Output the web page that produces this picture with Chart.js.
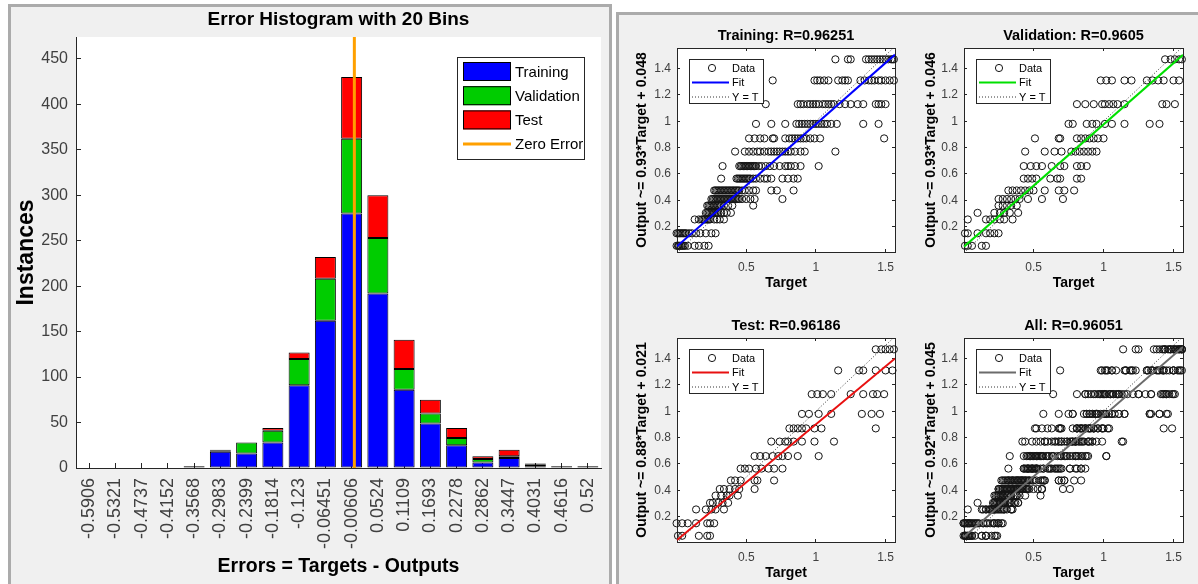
<!DOCTYPE html>
<html>
<head>
<meta charset="utf-8">
<script src="https://cdn.jsdelivr.net/npm/chart.js@4.4.1/dist/chart.umd.min.js"></script>
<style>
  html, body { margin: 0; padding: 0; background: #ffffff; }
  #page { position: relative; width: 1198px; height: 584px; overflow: hidden; }
  .panel { position: absolute; box-sizing: border-box; background: #f0f0f0; border: 3px solid #ababab; }
  #histPanel { left: 8px; top: 4px; width: 604px; height: 620px; }
  #regPanel { left: 616px; top: 12px; width: 620px; height: 620px; }
  canvas { position: absolute; }
</style>
</head>
<body>
<div id="page">
  <div class="panel" id="histPanel"></div>
  <div class="panel" id="regPanel"></div>
  <canvas id="hist" width="612" height="584" style="left:0;top:0"></canvas>
  <canvas id="regTrain" width="285" height="284" style="left:620px;top:16px"></canvas>
  <canvas id="regVal" width="293" height="284" style="left:905px;top:16px"></canvas>
  <canvas id="regTest" width="285" height="284" style="left:620px;top:306px"></canvas>
  <canvas id="regAll" width="293" height="284" style="left:905px;top:306px"></canvas>
</div>
<script>
const FONT = "'Liberation Sans', Arial, Helvetica, sans-serif";
Chart.defaults.font.family = FONT;

// ---- Error histogram ----
const binCenters = ['-0.5906', '-0.5321', '-0.4737', '-0.4152', '-0.3568', '-0.2983', '-0.2399', '-0.1814',
  '-0.123', '-0.06451', '-0.00606', '0.0524', '0.1109', '0.1693', '0.2278', '0.2862', '0.3447', '0.4031',
  '0.4616', '0.52'];
const trainingCounts   = [0, 0, 0, 0, 2, 18, 16, 28, 91, 162, 280, 192, 86, 49, 25, 6, 11, 2, 2, 2];
const validationCounts = [0, 0, 0, 0, 0, 1, 12, 13, 29, 46, 82, 61, 23, 11, 8, 4, 2, 2, 0, 0];
const testCounts       = [0, 0, 0, 0, 0, 1, 0, 3, 7, 24, 68, 47, 32, 15, 11, 3, 7, 1, 0, 0];
const countTicks = [0, 50, 100, 150, 200, 250, 300, 350, 400, 450];
const countMax = 474;
const zeroError = 0;

// ---- Regression plots ----
const outputLevels = [1.47, 1.31, 1.13, 0.98, 0.87, 0.77, 0.66, 0.565, 0.475, 0.41, 0.36, 0.305, 0.255, 0.15, 0.055];

const trainingTargets = [
  [1.14, 1.23, 1.25, 1.36, 1.38, 1.40, 1.42, 1.44, 1.46, 1.48, 1.50, 1.52, 1.54, 1.55, 1.56],
  [0.69, 0.99, 1.01, 1.03, 1.06, 1.09, 1.16, 1.19, 1.21, 1.23, 1.32, 1.35, 1.38, 1.40, 1.42, 1.45, 1.47, 1.50, 1.53, 1.56],
  [0.64, 0.87, 0.89, 0.91, 0.94, 0.96, 0.98, 1.00, 1.02, 1.05, 1.07, 1.09, 1.11, 1.13, 1.17, 1.21, 1.25, 1.30, 1.34, 1.43, 1.45, 1.47, 1.50],
  [0.57, 0.68, 0.78, 0.86, 0.88, 0.90, 0.92, 0.94, 0.96, 0.98, 1.00, 1.02, 1.04, 1.06, 1.08, 1.11, 1.15, 1.34, 1.45],
  [0.52, 0.56, 0.60, 0.63, 0.69, 0.70, 0.78, 0.81, 0.83, 0.85, 0.87, 0.89, 0.91, 0.93, 0.96, 0.99, 1.03, 1.49],
  [0.42, 0.49, 0.52, 0.55, 0.58, 0.60, 0.63, 0.66, 0.68, 0.70, 0.72, 0.74, 0.76, 0.78, 0.80, 0.82, 0.85, 0.89, 0.92, 1.14],
  [0.33, 0.45, 0.46, 0.47, 0.48, 0.49, 0.50, 0.51, 0.52, 0.53, 0.54, 0.55, 0.56, 0.57, 0.59, 0.61, 0.64, 0.67, 0.70, 0.74, 0.78, 0.80, 0.82, 0.85, 0.89, 1.02],
  [0.32, 0.43, 0.44, 0.45, 0.46, 0.47, 0.48, 0.49, 0.50, 0.51, 0.52, 0.53, 0.55, 0.57, 0.60, 0.63, 0.65, 0.68, 0.76, 0.80, 0.84, 0.87],
  [0.27, 0.28, 0.29, 0.30, 0.31, 0.32, 0.33, 0.34, 0.35, 0.36, 0.37, 0.38, 0.39, 0.40, 0.41, 0.42, 0.43, 0.44, 0.45, 0.47, 0.49, 0.52, 0.55, 0.57, 0.68, 0.72, 0.84],
  [0.25, 0.26, 0.27, 0.28, 0.29, 0.30, 0.31, 0.32, 0.33, 0.34, 0.35, 0.36, 0.37, 0.38, 0.39, 0.40, 0.41, 0.42, 0.43, 0.44, 0.45, 0.47, 0.50, 0.53, 0.56, 0.76],
  [0.22, 0.23, 0.24, 0.25, 0.26, 0.27, 0.28, 0.29, 0.30, 0.31, 0.32, 0.34, 0.37, 0.40, 0.55],
  [0.21, 0.22, 0.23, 0.24, 0.25, 0.26, 0.27, 0.28, 0.29, 0.30, 0.32, 0.34, 0.36, 0.39],
  [0.13, 0.16, 0.18, 0.19, 0.20, 0.21, 0.22, 0.23, 0.24, 0.27, 0.29, 0.31, 0.34],
  [0.00, 0.01, 0.02, 0.03, 0.04, 0.05, 0.06, 0.07, 0.09, 0.11, 0.14, 0.17, 0.21, 0.25, 0.28],
  [0.00, 0.01, 0.015, 0.02, 0.03, 0.04, 0.05, 0.06, 0.08, 0.13, 0.16, 0.20, 0.23]
];
const validationTargets = [
  [1.44, 1.48, 1.51, 1.54, 1.56],
  [0.98, 1.02, 1.06, 1.15, 1.20, 1.31, 1.35, 1.39, 1.43, 1.50, 1.54],
  [0.81, 0.87, 0.93, 0.99, 1.01, 1.04, 1.07, 1.10, 1.15, 1.42, 1.45, 1.51],
  [0.75, 0.78, 0.88, 0.92, 0.95, 1.01, 1.06, 1.15, 1.33, 1.40],
  [0.51, 0.68, 0.69, 0.81, 0.84, 0.87, 0.90, 0.93, 0.96, 1.00],
  [0.44, 0.58, 0.65, 0.70, 0.77, 0.80, 0.83, 0.86, 0.89, 0.92, 0.95],
  [0.43, 0.48, 0.52, 0.56, 0.63, 0.69, 0.72, 0.81, 0.84, 0.88],
  [0.43, 0.46, 0.49, 0.52, 0.62, 0.67, 0.69, 0.81, 0.84],
  [0.32, 0.35, 0.38, 0.41, 0.44, 0.47, 0.50, 0.58, 0.68, 0.72, 0.79],
  [0.25, 0.28, 0.31, 0.34, 0.37, 0.40, 0.46, 0.56, 0.71],
  [0.25, 0.28, 0.31, 0.34, 0.38],
  [0.10, 0.22, 0.26, 0.29, 0.33, 0.39],
  [0.03, 0.16, 0.19, 0.22, 0.26, 0.29, 0.35],
  [0.01, 0.03, 0.10, 0.16, 0.19, 0.22, 0.25],
  [0.01, 0.03, 0.06, 0.13, 0.16]
];
const testTargets = [
  [1.43, 1.47, 1.50, 1.53, 1.56],
  [1.16, 1.31, 1.34, 1.43, 1.50, 1.55],
  [0.97, 1.01, 1.05, 1.11, 1.25, 1.34, 1.41, 1.44, 1.49],
  [0.90, 0.95, 1.02, 1.11, 1.33, 1.40, 1.46],
  [0.81, 0.84, 0.87, 0.90, 0.93, 0.99, 1.04, 1.43],
  [0.68, 0.74, 0.78, 0.80, 0.84, 0.90, 0.99, 1.13],
  [0.56, 0.60, 0.64, 0.69, 0.73, 0.76, 0.80, 0.87, 1.02],
  [0.46, 0.49, 0.52, 0.57, 0.61, 0.66, 0.70, 0.76],
  [0.39, 0.42, 0.46, 0.56, 0.58, 0.70],
  [0.31, 0.34, 0.38, 0.42, 0.45, 0.56],
  [0.28, 0.32, 0.36, 0.38, 0.44],
  [0.24, 0.26, 0.30, 0.33, 0.37],
  [0.14, 0.21, 0.25, 0.28, 0.34],
  [0.00, 0.04, 0.08, 0.14, 0.22, 0.24, 0.27],
  [0.01, 0.04, 0.16, 0.22, 0.24]
];
// slope, intercept of each fitted line
const fitTraining   = [0.93, 0.048];
const fitValidation = [0.93, 0.046];
const fitTest       = [0.88, 0.021];
const fitAll        = [0.92, 0.045];
const rTraining = '0.96251', rValidation = '0.9605', rTest = '0.96186', rAll = '0.96051';
const targetTicks = [0.5, 1, 1.5];
const outputTicks = [0.2, 0.4, 0.6, 0.8, 1, 1.2, 1.4];
const targetRange = [0.003, 1.568];
const outputRange = [0.008, 1.556];

// ---------- shared helpers ----------
const AXIS = '#262626';
const TICKTXT = '#404040';

const plotBackground = {
  id: 'plotBackground',
  beforeDraw(chart) {
    const { ctx, chartArea: a } = chart;
    ctx.save();
    ctx.fillStyle = '#ffffff';
    ctx.fillRect(a.left, a.top, a.width, a.height);
    ctx.restore();
  }
};

const fixedTicks = (values) => (scale) => { scale.ticks = values.map(v => ({ value: v })); };
// fixed axis band size, without extra room reserved for overhanging end labels
const bandSize = (prop, size) => (scale) => {
  scale[prop] = size;
  scale.paddingLeft = 0; scale.paddingRight = 0;
  scale.paddingTop = 0; scale.paddingBottom = 0;
};

// ---------- histogram ----------
const binValues = binCenters.map(Number);
const halfBin = (binValues[binValues.length - 1] - binValues[0]) / (binValues.length - 1) / 2;

const histLegend = {
  id: 'histLegend',
  afterDraw(chart) {
    const { ctx, chartArea: a } = chart;
    const x0 = a.right - 144, y0 = a.top + 20, w = 128, h = 103;
    ctx.save();
    ctx.fillStyle = '#ffffff';
    ctx.fillRect(x0, y0, w, h);
    ctx.strokeStyle = AXIS;
    ctx.lineWidth = 1;
    ctx.strokeRect(x0 + 0.5, y0 + 0.5, w - 1, h - 1);
    ctx.font = '15px ' + FONT;
    ctx.textBaseline = 'middle';
    ctx.textAlign = 'left';
    chart.data.datasets.forEach((ds, i) => {
      const cy = y0 + 14.5 + i * 24.2;
      if (ds.type === 'line') {
        ctx.strokeStyle = ds.borderColor;
        ctx.lineWidth = 3;
        ctx.beginPath();
        ctx.moveTo(x0 + 6, cy);
        ctx.lineTo(x0 + 54, cy);
        ctx.stroke();
      } else {
        ctx.fillStyle = ds.backgroundColor;
        ctx.fillRect(x0 + 6, cy - 9.5, 48, 19);
        ctx.strokeStyle = '#000';
        ctx.lineWidth = 1;
        ctx.strokeRect(x0 + 6.5, cy - 9, 47, 18);
      }
      ctx.fillStyle = '#000';
      ctx.fillText(ds.label, x0 + 58, cy + 1);
    });
    ctx.restore();
  }
};

// one stacked bar per bin, filling 80% of the bin
const barStyle = {
  borderColor: '#000000', borderWidth: 1, borderSkipped: false,
  grouped: false, barPercentage: 0.8, categoryPercentage: 1.0
};

new Chart(document.getElementById('hist'), {
  type: 'bar',
  data: {
    labels: binCenters,
    datasets: [
      Object.assign({ label: 'Training', data: trainingCounts, backgroundColor: '#0000ff' }, barStyle),
      Object.assign({ label: 'Validation', data: validationCounts, backgroundColor: '#00cc00' }, barStyle),
      Object.assign({ label: 'Test', data: testCounts, backgroundColor: '#ff0000' }, barStyle),
      {
        type: 'line', label: 'Zero Error', xAxisID: 'xz', yAxisID: 'y', order: -1,
        data: [{ x: zeroError, y: 0 }, { x: zeroError, y: countMax }],
        borderColor: '#ffa000', borderWidth: 3, pointRadius: 0, fill: false
      }
    ]
  },
  options: {
    responsive: false, animation: false, events: [],
    layout: { padding: { left: 0, right: 11, top: 0, bottom: 0 } },
    plugins: {
      legend: { display: false }, tooltip: { enabled: false },
      title: {
        display: true, text: 'Error Histogram with 20 Bins', fullSize: false, color: '#000',
        font: { size: 19, weight: 'bold' }, padding: { top: 8.6, bottom: 5.6 }
      }
    },
    scales: {
      x: {
        type: 'category', stacked: true, offset: true,
        afterFit: bandSize('height', 116),
        grid: { offset: false, drawOnChartArea: false, drawTicks: true, tickLength: -5, color: AXIS },
        border: { display: true, color: AXIS, width: 1 },
        ticks: { autoSkip: false, minRotation: 90, maxRotation: 90, padding: 15, color: TICKTXT, font: { size: 18 } },
        title: { display: true, text: 'Errors = Targets - Outputs', color: '#000', font: { size: 19.5, weight: 'bold' }, padding: { top: 0, bottom: 6 } }
      },
      xz: {
        type: 'linear', display: false, offset: false,
        min: binValues[0] - halfBin, max: binValues[binValues.length - 1] + halfBin
      },
      y: {
        type: 'linear', stacked: true, min: 0, max: countMax,
        afterBuildTicks: fixedTicks(countTicks),
        afterFit: bandSize('width', 76),
        grid: { drawOnChartArea: false, drawTicks: true, tickLength: -5, color: AXIS },
        border: { display: true, color: AXIS, width: 1 },
        ticks: { padding: 13, color: TICKTXT, font: { size: 16 }, callback: (v) => String(v) },
        title: { display: true, text: 'Instances', color: '#000', font: { size: 23, weight: 'bold' }, padding: { top: 13.2, bottom: 0 } }
      }
    }
  },
  plugins: [plotBackground, histLegend]
});

// ---------- regression plots ----------
const regLegend = {
  id: 'regLegend',
  afterDraw(chart) {
    const { ctx, chartArea: a } = chart;
    const x0 = a.left + 12, y0 = a.top + 11, w = 75, h = 45;
    ctx.save();
    ctx.fillStyle = '#ffffff';
    ctx.fillRect(x0, y0, w, h);
    ctx.strokeStyle = AXIS;
    ctx.lineWidth = 1;
    ctx.strokeRect(x0 + 0.5, y0 + 0.5, w - 1, h - 1);
    ctx.font = '11px ' + FONT;
    ctx.textBaseline = 'middle';
    ctx.textAlign = 'left';
    chart.data.datasets.forEach((ds, i) => {
      const cy = y0 + 9 + i * 14.5;
      if (ds.showLine === false) {
        ctx.strokeStyle = ds.borderColor;
        ctx.lineWidth = 1;
        ctx.beginPath();
        ctx.arc(x0 + 23, cy, ds.pointRadius, 0, Math.PI * 2);
        ctx.stroke();
      } else {
        ctx.strokeStyle = ds.borderColor;
        ctx.lineWidth = ds.borderWidth;
        ctx.setLineDash(ds.borderDash || []);
        ctx.beginPath();
        ctx.moveTo(x0 + 3, cy);
        ctx.lineTo(x0 + 40, cy);
        ctx.stroke();
        ctx.setLineDash([]);
      }
      ctx.fillStyle = '#000';
      ctx.fillText(ds.label, x0 + 43, cy + 0.5);
    });
    ctx.restore();
  }
};

function rowsToPoints(rows) {
  const pts = [];
  rows.forEach((row, i) => row.forEach(t => pts.push({ x: t, y: outputLevels[i] })));
  return pts;
}

function regressionPlot(canvasId, name, r, rows, fit, color, axisWidth, padRight, yTitlePad) {
  const lo = targetRange[0], hi = targetRange[1];
  const edgeScale = (extra) => Object.assign({
    type: 'linear',
    grid: { drawOnChartArea: false, drawTicks: true, tickLength: -3, color: AXIS },
    border: { display: true, color: AXIS, width: 1 }
  }, extra);
  return new Chart(document.getElementById(canvasId), {
    type: 'scatter',
    data: {
      datasets: [
        {
          label: 'Data', data: rowsToPoints(rows), xAxisID: 'x', yAxisID: 'y', order: 2,
          showLine: false, pointStyle: 'circle', pointRadius: 3.6, borderWidth: 1,
          borderColor: '#141414', backgroundColor: 'rgba(0,0,0,0)', clip: false
        },
        {
          type: 'line', label: 'Fit', xAxisID: 'x', yAxisID: 'y', order: 0,
          data: [{ x: lo, y: fit[0] * lo + fit[1] }, { x: hi, y: fit[0] * hi + fit[1] }],
          borderColor: color, borderWidth: 2, pointRadius: 0, fill: false
        },
        {
          type: 'line', label: 'Y = T', xAxisID: 'x', yAxisID: 'y', order: 1,
          data: [{ x: lo, y: lo }, { x: hi, y: hi }],
          borderColor: '#333333', borderWidth: 1, borderDash: [1, 2], pointRadius: 0, fill: false
        }
      ]
    },
    options: {
      responsive: false, animation: false, events: [],
      layout: { padding: { left: 0, right: padRight, top: 0, bottom: 0 } },
      plugins: {
        legend: { display: false }, tooltip: { enabled: false },
        title: {
          display: true, text: name + ': R=' + r, fullSize: false, color: '#000',
          font: { size: 14.5, weight: 'bold' }, padding: { top: 11.3, bottom: 3.3 }
        }
      },
      scales: {
        x: edgeScale({
          position: 'bottom', min: targetRange[0], max: targetRange[1],
          afterBuildTicks: fixedTicks(targetTicks),
          afterFit: bandSize('height', 48),
          ticks: { padding: 11, color: TICKTXT, font: { size: 12 }, maxRotation: 0, callback: (v) => String(v) },
          title: { display: true, text: 'Target', color: '#000', font: { size: 14, weight: 'bold' }, padding: { top: 0, bottom: 8.6 } }
        }),
        y: edgeScale({
          position: 'left', min: outputRange[0], max: outputRange[1],
          afterBuildTicks: fixedTicks(outputTicks),
          afterFit: bandSize('width', axisWidth),
          ticks: { padding: 9, color: TICKTXT, font: { size: 12 }, callback: (v) => String(v) },
          title: {
            display: true, text: 'Output ~= ' + fit[0] + '*Target + ' + fit[1], color: '#000',
            font: { size: 14, weight: 'bold' }, padding: { top: yTitlePad, bottom: 0 }
          }
        }),
        x2: edgeScale({
          position: 'top', min: targetRange[0], max: targetRange[1],
          afterBuildTicks: fixedTicks(targetTicks),
          afterFit: bandSize('height', 0),
          ticks: { display: false }
        }),
        y2: edgeScale({
          position: 'right', min: outputRange[0], max: outputRange[1],
          afterBuildTicks: fixedTicks(outputTicks),
          afterFit: bandSize('width', 0),
          ticks: { display: false }
        })
      }
    },
    plugins: [plotBackground, regLegend]
  });
}

const allTargets = outputLevels.map((_, i) =>
  trainingTargets[i].concat(validationTargets[i], testTargets[i]));

regressionPlot('regTrain', 'Training', rTraining, trainingTargets, fitTraining, '#0000ff', 57, 10, 13.6);
regressionPlot('regVal', 'Validation', rValidation, validationTargets, fitValidation, '#00e000', 59, 15, 17.6);
regressionPlot('regTest', 'Test', rTest, testTargets, fitTest, '#e81010', 57, 10, 13.6);
regressionPlot('regAll', 'All', rAll, allTargets, fitAll, '#6b6b6b', 59, 15, 17.6);
</script>
</body>
</html>
